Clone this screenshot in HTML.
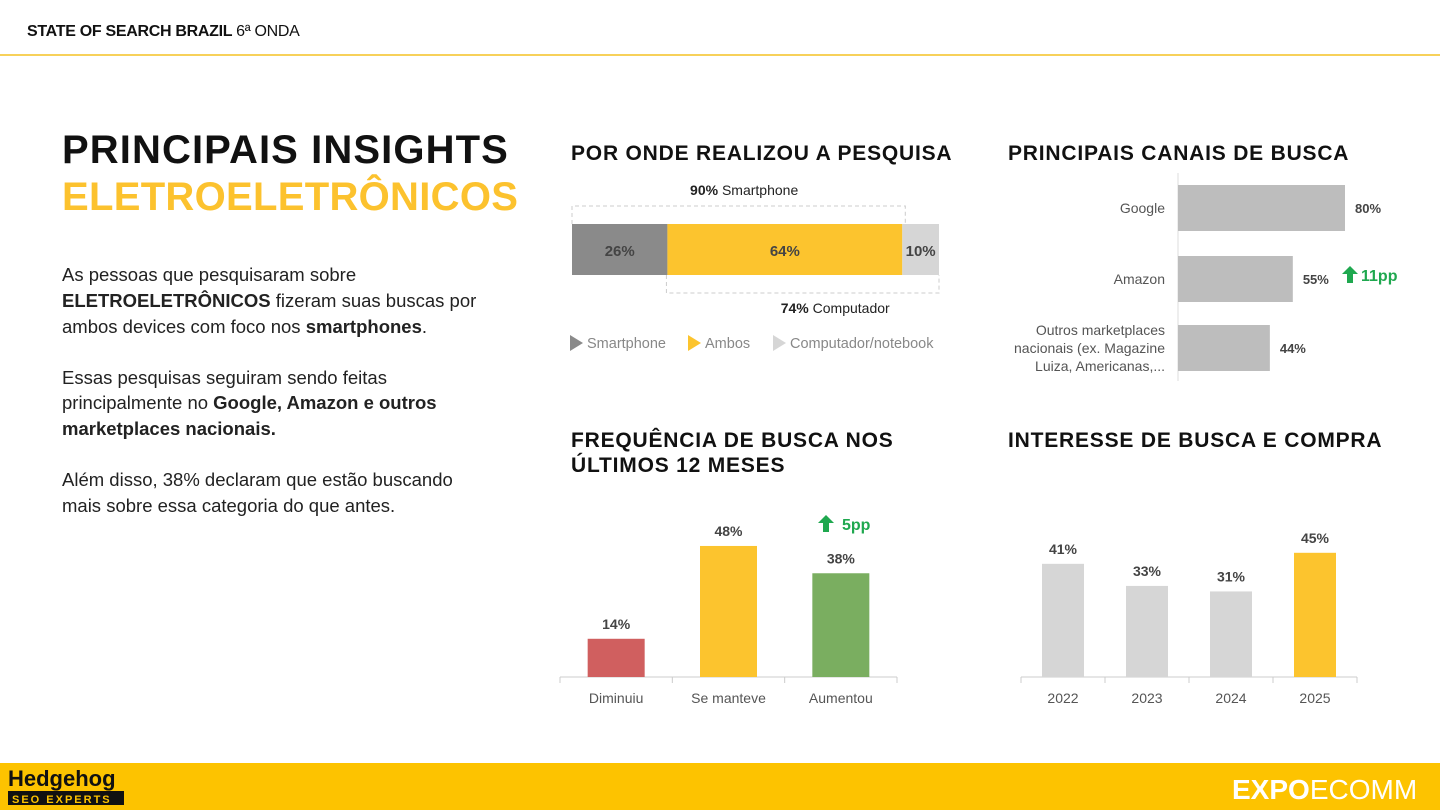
<!DOCTYPE html>
<html><head><meta charset="utf-8">
<style>
body{margin:0;width:1440px;height:810px;overflow:hidden;background:#fff;font-family:"Liberation Sans",sans-serif;}
svg{display:block}
.t{font-family:"Liberation Sans",sans-serif}
</style></head><body>
<svg width="1440" height="810" viewBox="0 0 1440 810" xmlns="http://www.w3.org/2000/svg" class="t">
<text x="27" y="36" font-size="16" font-weight="bold" fill="#111" letter-spacing="-0.3">STATE OF SEARCH BRAZIL <tspan font-weight="normal">6ª ONDA</tspan></text>
<rect x="0" y="54" width="1440" height="2" fill="#f7d15a"/>
<text x="62" y="163" font-size="40" font-weight="bold" fill="#111" letter-spacing="1.1">PRINCIPAIS INSIGHTS</text>
<text x="62" y="210" font-size="40" font-weight="bold" fill="#fcc22e" letter-spacing="0.3">ELETROELETRÔNICOS</text>
<g font-size="18.5" fill="#222">
<text x="62" y="281">As pessoas que pesquisaram sobre</text>
<text x="62" y="307"><tspan font-weight="bold">ELETROELETRÔNICOS</tspan> fizeram suas buscas por</text>
<text x="62" y="333">ambos devices com foco nos <tspan font-weight="bold">smartphones</tspan>.</text>
<text x="62" y="384">Essas pesquisas seguiram sendo feitas</text>
<text x="62" y="409">principalmente no <tspan font-weight="bold">Google, Amazon e outros</tspan></text>
<text x="62" y="435"><tspan font-weight="bold">marketplaces nacionais.</tspan></text>
<text x="62" y="486">Além disso, 38% declaram que estão buscando</text>
<text x="62" y="512">mais sobre essa categoria do que antes.</text>
</g>
<g font-size="21" font-weight="bold" fill="#111" letter-spacing="0.8">
<text x="571" y="160">POR ONDE REALIZOU A PESQUISA</text>
<text x="1008" y="160">PRINCIPAIS CANAIS DE BUSCA</text>
<text x="571" y="447">FREQUÊNCIA DE BUSCA NOS</text>
<text x="571" y="472">ÚLTIMOS 12 MESES</text>
<text x="1008" y="447">INTERESSE DE BUSCA E COMPRA</text>
</g>
<g id="device"></g>
<g id="channels"></g>
<g id="freq"></g>
<g id="interest"></g>
<rect x="0" y="763" width="1440" height="47" fill="#fdc300"/>
<text x="8" y="786" font-size="22" font-weight="bold" fill="#111">Hedgehog</text>
<rect x="8" y="791" width="116" height="14" fill="#111"/>
<text x="12" y="803" font-size="11" font-weight="bold" fill="#fdc300" letter-spacing="2">SEO EXPERTS</text>
<text x="1232" y="799" font-size="28" fill="#fff"><tspan font-weight="bold">EXPO</tspan>ECOMM</text>
</svg>
<script>
const NS="http://www.w3.org/2000/svg";
function mk(p,tag,a,txt){const e=document.createElementNS(NS,tag);for(const k in a)e.setAttribute(k,a[k]);if(txt!==undefined)e.textContent=txt;p.appendChild(e);return e;}
// device chart data
const deviceLabels=["Smartphone","Ambos","Computador/notebook"];
const deviceValues=[26,64,10];
const deviceColors=["#8a8a8a","#fcc42e","#d6d6d6"];
const smartTotal=90, compTotal=74;
// channels data
const channelLabels=[["Google"],["Amazon"],["Outros marketplaces","nacionais (ex. Magazine","Luiza, Americanas,..."]];
const channelValues=[80,55,44];
// frequency data
const freqLabels=["Diminuiu","Se manteve","Aumentou"];
const freqValues=[14,48,38];
const freqColors=["#d05f5f","#fcc42e","#7aae60"];
// interest data
const interestYears=["2022","2023","2024","2025"];
const interestValues=[41,33,31,45];

(function(){
 const g=document.getElementById('device');
 const x0=572,W=367,y=224,h=51; const sx=v=>v/100*W;
 let acc=0;
 deviceValues.forEach((v,i)=>{
  const r=mk(g,'rect',{x:x0+sx(acc),y:y,width:sx(v),height:h,fill:deviceColors[i]});
  
  
  mk(g,'text',{x:x0+sx(acc+v/2),y:y+32,'font-size':15,'font-weight':'bold',fill:'#444','text-anchor':'middle'},v+'%');
  acc+=v;
 });
 const sEnd=x0+sx(deviceValues[0]+deviceValues[1]);
 mk(g,'path',{d:`M${x0} ${y}V${y-18}H${sEnd+3}V${y}`,fill:'none',stroke:'#ccc','stroke-dasharray':'4 3'});
 const cS=x0+sx(100-compTotal);
 mk(g,'path',{d:`M${cS-1} ${y+h}V${y+h+18}H${x0+W}V${y+h}`,fill:'none',stroke:'#ccc','stroke-dasharray':'4 3'});
 const t1=mk(g,'text',{x:(x0+sEnd)/2+7,y:195,'font-size':14,fill:'#222','text-anchor':'middle'});
 mk(t1,'tspan',{'font-weight':'bold'},smartTotal+'% ');mk(t1,'tspan',{},'Smartphone');
 const t2=mk(g,'text',{x:(cS+x0+W)/2+32,y:313,'font-size':14,fill:'#222','text-anchor':'middle'});
 mk(t2,'tspan',{'font-weight':'bold'},compTotal+'% ');mk(t2,'tspan',{},'Computador');
 const lx=[570,688,773];
 deviceLabels.forEach((l,i)=>{
  const it=mk(g,'g',{});
  
  
  mk(it,'path',{d:`M${lx[i]} 335l13 8l-13 8z`,fill:deviceColors[i]});
  mk(it,'text',{x:lx[i]+17,y:348,'font-size':14.5,fill:'#888'},l);
 });
})();
(function(){
 const g=document.getElementById('channels');
 const ax=1178,sc=167/80,ys=[185,256,325],bh=46;
 mk(g,'line',{x1:ax,y1:173,x2:ax,y2:381,stroke:'#ddd'});
 channelValues.forEach((v,i)=>{
  const r=mk(g,'rect',{x:ax,y:ys[i],width:v*sc,height:bh,fill:'#bdbdbd'});
  
  
  mk(g,'text',{x:ax+v*sc+10,y:ys[i]+bh/2+5,'font-size':13,'font-weight':'bold',fill:'#444'},v+'%');
  const ls=channelLabels[i];
  ls.forEach((l,j)=>mk(g,'text',{x:1165,y:ys[i]+bh/2+5+(j-(ls.length-1)/2)*18,'font-size':14,fill:'#555','text-anchor':'end'},l));
 });
 mk(g,'path',{d:'M1350 266l-8 8h5v9h6v-9h5z',fill:'#1fa84f'});
 mk(g,'text',{x:1361,y:281,'font-size':16,'font-weight':'bold',fill:'#1fa84f'},'11pp');
})();
function cols(g,labels,values,colors,x0,x1,base,sc,bw,pfx){
 mk(g,'line',{x1:x0,y1:base,x2:x1,y2:base,stroke:'#ccc'});
 const n=labels.length,step=(x1-x0)/n;
 for(let i=0;i<=n;i++)mk(g,'line',{x1:x0+i*step,y1:base,x2:x0+i*step,y2:base+6,stroke:'#ccc'});
 values.forEach((v,i)=>{
  const cx=x0+step*(i+0.5),h=v*sc;
  const r=mk(g,'rect',{x:cx-bw/2,y:base-h,width:bw,height:h,fill:colors[i]});
  
  
  mk(g,'text',{x:cx,y:base-h-10,'font-size':14,'font-weight':'bold',fill:'#444','text-anchor':'middle'},v+'%');
  mk(g,'text',{x:cx,y:base+26,'font-size':14,fill:'#555','text-anchor':'middle'},labels[i]);
 });
}
cols(document.getElementById('freq'),freqLabels,freqValues,freqColors,560,897,677,2.73,57,'freq');
(function(){const g=document.getElementById('freq');
 mk(g,'path',{d:'M826 515l-8 8h5v9h6v-9h5z',fill:'#1fa84f'});
 mk(g,'text',{x:842,y:530,'font-size':16,'font-weight':'bold',fill:'#1fa84f'},'5pp');})();
cols(document.getElementById('interest'),interestYears,interestValues,interestValues.map((v,i)=>i==interestValues.length-1?'#fcc42e':'#d6d6d6'),1021,1357,677,2.76,42,'interest');
</script>
</body></html>
